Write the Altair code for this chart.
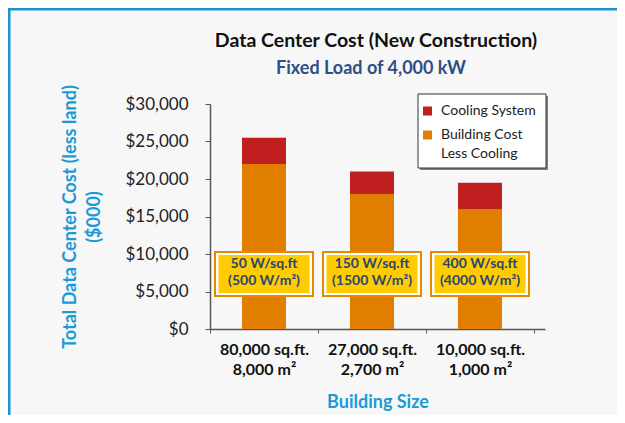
import altair as alt
import pandas as pd

# ---- data ----
sizes = ["80,000 sq.ft.|8,000 m²", "27,000 sq.ft.|2,700 m²", "10,000 sq.ft.|1,000 m²"]
building_cost = [22000, 18000, 16000]
cooling_cost = [3500, 3000, 3500]
densities = ["50 W/sq.ft|(500 W/m²)", "150 W/sq.ft|(1500 W/m²)", "400 W/sq.ft|(4000 W/m²)"]
series_names = ["Cooling System", "Building Cost|Less Cooling"]
series_colors = ["#c01f1f", "#e17e00"]
y_ticks = [0, 5000, 10000, 15000, 20000, 25000, 30000]
title_text = "Data Center Cost (New Construction)"
subtitle_text = "Fixed Load of 4,000 kW"
y_title = ["Total Data Center Cost (less land)", "($000)"]
x_title = "Building Size"

rows = []
for s, b, c in zip(sizes, building_cost, cooling_cost):
    rows.append({"size": s, "series": series_names[1], "value": b, "ord": 0})
    rows.append({"size": s, "series": series_names[0], "value": c, "ord": 1})
bars_df = pd.DataFrame(rows)
box_df = pd.DataFrame({"size": sizes, "density": densities})

FONT = "Lato"
BLUE = "#1b9ad6"

x_enc = alt.X(
    "size:N",
    sort=sizes,
    scale=alt.Scale(domain=sizes, paddingInner=0, paddingOuter=0.051, align=0),
    axis=alt.Axis(
        title=x_title,
        labelExpr="split(datum.label, '|')",
        labelAngle=0,
        labelFont=FONT,
        labelFontSize=16,
        labelFontWeight="bold",
        labelColor="#111111",
        labelLineHeight=20,
        labelPadding=8,
        tickBand="extent",
        tickSize=4,
        tickColor="#555555",
        domainColor="#555555",
        domainWidth=1.5,
        titleFont=FONT,
        titleFontSize=18,
        titleFontWeight="bold",
        titleColor=BLUE,
        titlePadding=16,
    ),
)

bars = alt.Chart(bars_df).mark_bar(width=44).encode(
    x=x_enc,
    y=alt.Y(
        "value:Q",
        stack="zero",
        scale=alt.Scale(domain=[0, 30000], nice=False),
        axis=alt.Axis(
            title=y_title,
            values=y_ticks,
            format="$,d",
            grid=False,
            labelFont=FONT,
            labelFontSize=17,
            labelColor="#222222",
            labelPadding=17,
            tickSize=5,
            tickColor="#555555",
            domainColor="#555555",
            domainWidth=1.5,
            titleFont=FONT,
            titleFontSize=18,
            titleFontWeight="bold",
            titleColor=BLUE,
            titleLineHeight=24,
            titlePadding=21,
        ),
    ),
    color=alt.Color(
        "series:N",
        scale=alt.Scale(domain=series_names, range=series_colors),
        legend=None,
    ),
    order=alt.Order("ord:Q"),
)

box_outer = alt.Chart(box_df).mark_bar(
    width=98, fill="white", stroke="#e58a00", strokeWidth=2
).encode(x=alt.X("size:N", sort=sizes), y=alt.value(148), y2=alt.value(192))

box_inner = alt.Chart(box_df).mark_bar(width=91, fill="#ffcc00").encode(
    x=alt.X("size:N", sort=sizes), y=alt.value(151), y2=alt.value(189)
)

box_text = alt.Chart(box_df).mark_text(
    lineBreak="|", lineHeight=17, font=FONT, fontSize=14, fontWeight="bold",
    color="#2a4674", baseline="middle", align="center",
).encode(x=alt.X("size:N", sort=sizes), y=alt.value(160), text="density:N")

one = pd.DataFrame({"a": [0]})

# ---- legend box (drawn by hand so the swatch sits on the first text line) ----
leg_shadow = alt.Chart(one).mark_rect(fill="#808080").encode(
    x=alt.value(210), x2=alt.value(338), y=alt.value(-8), y2=alt.value(66)
)
leg_box = alt.Chart(one).mark_rect(fill="white", stroke="#333333", strokeWidth=1).encode(
    x=alt.value(208), x2=alt.value(336), y=alt.value(-10), y2=alt.value(64)
)
leg_sym_cool = alt.Chart(one).mark_square(size=81, opacity=1, color=series_colors[0]).encode(
    x=alt.value(217.5), y=alt.value(7)
)
leg_sym_build = alt.Chart(one).mark_square(size=81, opacity=1, color=series_colors[1]).encode(
    x=alt.value(217.5), y=alt.value(31)
)
leg_txt_cool = alt.Chart(pd.DataFrame({"t": [series_names[0]]})).mark_text(
    font=FONT, fontSize=14, color="#222222", align="left", baseline="middle"
).encode(x=alt.value(231), y=alt.value(7), text="t:N")
leg_txt_build = alt.Chart(pd.DataFrame({"t": [series_names[1]]})).mark_text(
    font=FONT, fontSize=14, color="#222222", align="left", baseline="middle",
    lineBreak="|", lineHeight=19,
).encode(x=alt.value(231), y=alt.value(31), text="t:N")

title = alt.Chart(pd.DataFrame({"t": [title_text]})).mark_text(
    font=FONT, fontSize=19.5, fontWeight="bold",
    color="#111111", baseline="alphabetic", align="center",
).encode(x=alt.value(166), y=alt.value(-57), text="t:N")

subtitle = alt.Chart(pd.DataFrame({"t": [subtitle_text]})).mark_text(
    font=FONT, fontSize=18, fontWeight="bold",
    color="#2d4f85", baseline="alphabetic", align="center",
).encode(x=alt.value(161), y=alt.value(-30), text="t:N")

frame_left = alt.Chart(one).mark_rule(color="#1a96cc", strokeWidth=3).encode(
    x=alt.value(-201), y=alt.value(-96), y2=alt.value(330)
)
frame_top = alt.Chart(one).mark_rule(color="#1a96cc", strokeWidth=3).encode(
    x=alt.value(-202), x2=alt.value(420), y=alt.value(-95)
)

chart = alt.layer(
    bars, box_outer, box_inner, box_text,
    leg_shadow, leg_box, leg_sym_cool, leg_sym_build, leg_txt_cool, leg_txt_build,
    title, subtitle, frame_left, frame_top,
).properties(
    width=335,
    height=225,
    autosize=alt.AutoSizeParams(type="none"),
    padding={"left": 202, "top": 96, "right": 72, "bottom": 86},
    background="#f7f7f7",
).configure_view(stroke=None)

chart.save("out.html", embed_options={"renderer": "svg", "actions": False})
